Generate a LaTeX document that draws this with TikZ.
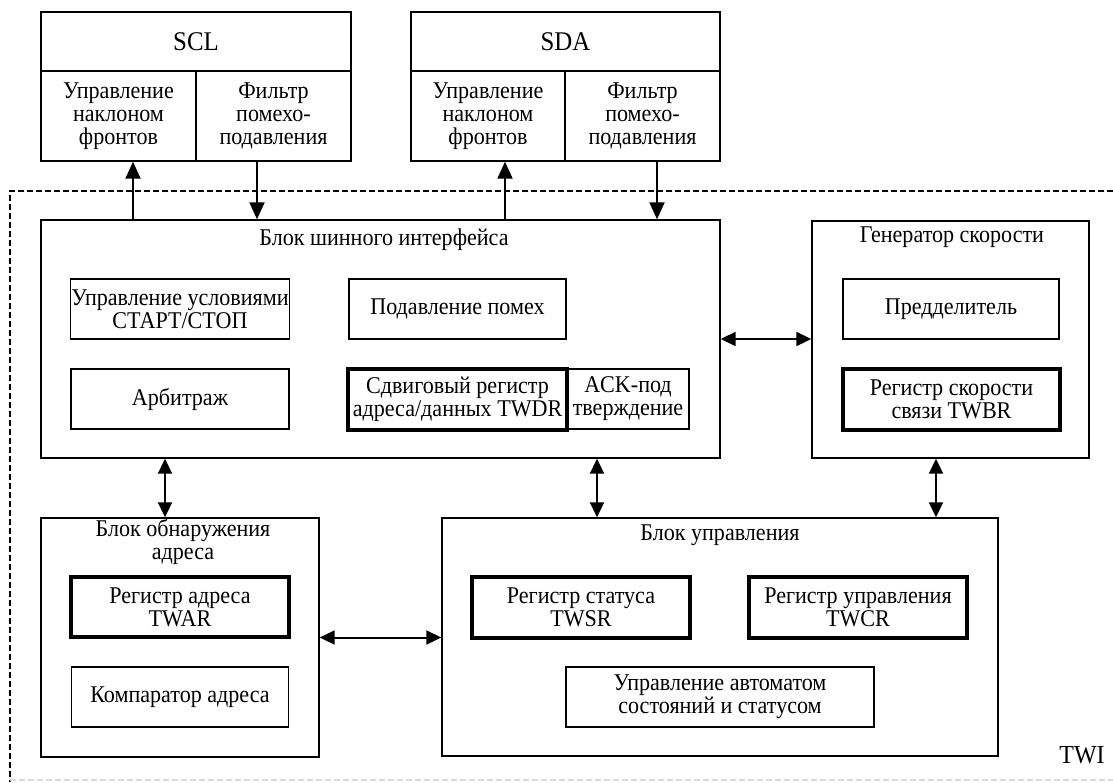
\documentclass[tikz,border=0pt]{standalone}
\usepackage{fontspec}
\setmainfont{Liberation Serif}[FakeStretch=0.92]
\usetikzlibrary{arrows.meta}

\tikzset{
  blk/.style={draw,line width=1.4pt,inner sep=1pt,align=center,font=\fontsize{24}{23}\selectfont},
  reg/.style={blk,line width=3.5pt},
  sz/.style 2 args={minimum width=#1,minimum height=#2},
  ttl/.style={inner sep=0pt,align=center,font=\fontsize{24}{23}\selectfont},
  arr/.style={line width=2pt,-{Triangle[length=17pt,width=15pt]}},
  dbl/.style={line width=2pt,{Triangle[length=15pt,width=14pt]}-{Triangle[length=15pt,width=14pt]}}
}

\begin{document}
\begin{tikzpicture}[x=1pt,y=-1pt]
  \useasboundingbox (0,0) rectangle (1113,782);

  % TWI border
  \draw[line width=2pt,dash pattern=on 6pt off 3pt] (1113,191) -- (10,191) -- (10,782);
  \draw[gray!30,line width=1.2pt,dash pattern=on 6pt off 3pt] (10,780) -- (1113,780);
  \node[ttl,font=\fontsize{26}{26}\selectfont] (twi) at (1082,755) {TWI};

  % pins
  \node[blk,sz={310pt}{59pt},font=\fontsize{27}{27}\selectfont] (scl) at (196,41.5) {SCL};
  \node[blk,sz={155pt}{90pt}] (sclL) at (118.5,116) {Управление\\наклоном\\фронтов};
  \node[blk,sz={155pt}{90pt}] (sclR) at (273.5,116) {Фильтр\\помехо-\\подавления};
  \node[blk,sz={309pt}{59pt},font=\fontsize{27}{27}\selectfont] (sda) at (565.5,41.5) {SDA};
  \node[blk,sz={154pt}{90pt}] (sdaL) at (488,116) {Управление\\наклоном\\фронтов};
  \node[blk,sz={155pt}{90pt}] (sdaR) at (642.5,116) {Фильтр\\помехо-\\подавления};

  % bus interface
  \node[blk,sz={679pt}{238pt}] (bus) at (380.5,339) {};
  \node[ttl] (bust) at (384,240) {Блок шинного интерфейса};
  \node[blk,sz={218pt}{60pt}] (start) at (180,309) {Управление условиями\\СТАРТ/СТОП};
  \node[blk,sz={217pt}{60pt}] (noise) at (457.5,309) {Подавление помех};
  \node[blk,sz={218pt}{60pt}] (arb) at (180,399) {Арбитраж};
  \node[reg,sz={219pt}{61pt}] (twdr) at (457.5,399.5) {Сдвиговый регистр\\адреса/данных TWDR};
  \node[blk,sz={122pt}{60pt}] (ack) at (628,399) {ACK-под\\тверждение};

  % bit rate generator
  \node[blk,sz={277pt}{237pt}] (gen) at (950.5,339.5) {};
  \node[ttl] (gent) at (952,237) {Генератор скорости};
  \node[blk,sz={216pt}{60pt}] (presc) at (951,309) {Предделитель};
  \node[reg,sz={217pt}{61pt}] (twbr) at (951.5,399.5) {Регистр скорости\\связи TWBR};

  % address match
  \node[blk,sz={278pt}{239pt}] (addr) at (180,637.5) {};
  \node[ttl] (addrt) at (183,541.5) {Блок обнаружения\\адреса};
  \node[reg,sz={218pt}{60pt}] (twar) at (180,607) {Регистр адреса\\TWAR};
  \node[blk,sz={217pt}{60pt}] (cmp) at (180,697) {Компаратор адреса};

  % control unit
  \node[blk,sz={556pt}{238pt}] (ctrl) at (720,637) {};
  \node[ttl] (ctrlt) at (720,535) {Блок управления};
  \node[reg,sz={218pt}{61pt}] (twsr) at (581,607.5) {Регистр статуса\\TWSR};
  \node[reg,sz={218pt}{61pt}] (twcr) at (858,607.5) {Регистр управления\\TWCR};
  \node[blk,sz={308pt}{60pt}] (fsm) at (720,697) {Управление автоматом\\состояний и статусом};

  \draw[arr] ([xshift=14.5pt]sclL.south |- bus.north) -- ([xshift=14.5pt]sclL.south);
  \draw[arr] ([xshift=-16.5pt]sclR.south) -- ([xshift=-16.5pt]sclR.south |- bus.north);
  \draw[arr] ([xshift=17pt]sdaL.south |- bus.north) -- ([xshift=17pt]sdaL.south);
  \draw[arr] ([xshift=14.5pt]sdaR.south) -- ([xshift=14.5pt]sdaR.south |- bus.north);
  \draw[dbl] (bus.east) -- (bus.east -| gen.west);
  \draw[dbl] ([xshift=-15pt]addr.north |- bus.south) -- ([xshift=-15pt]addr.north);
  \draw[dbl] ([xshift=-123pt]ctrl.north |- bus.south) -- ([xshift=-123pt]ctrl.north);
  \draw[dbl] ([xshift=-14.5pt]gen.south) -- ([xshift=-14.5pt]gen.south |- ctrl.north);
  \draw[dbl] (addr.east) -- (addr.east -| ctrl.west);
\end{tikzpicture}
\end{document}
